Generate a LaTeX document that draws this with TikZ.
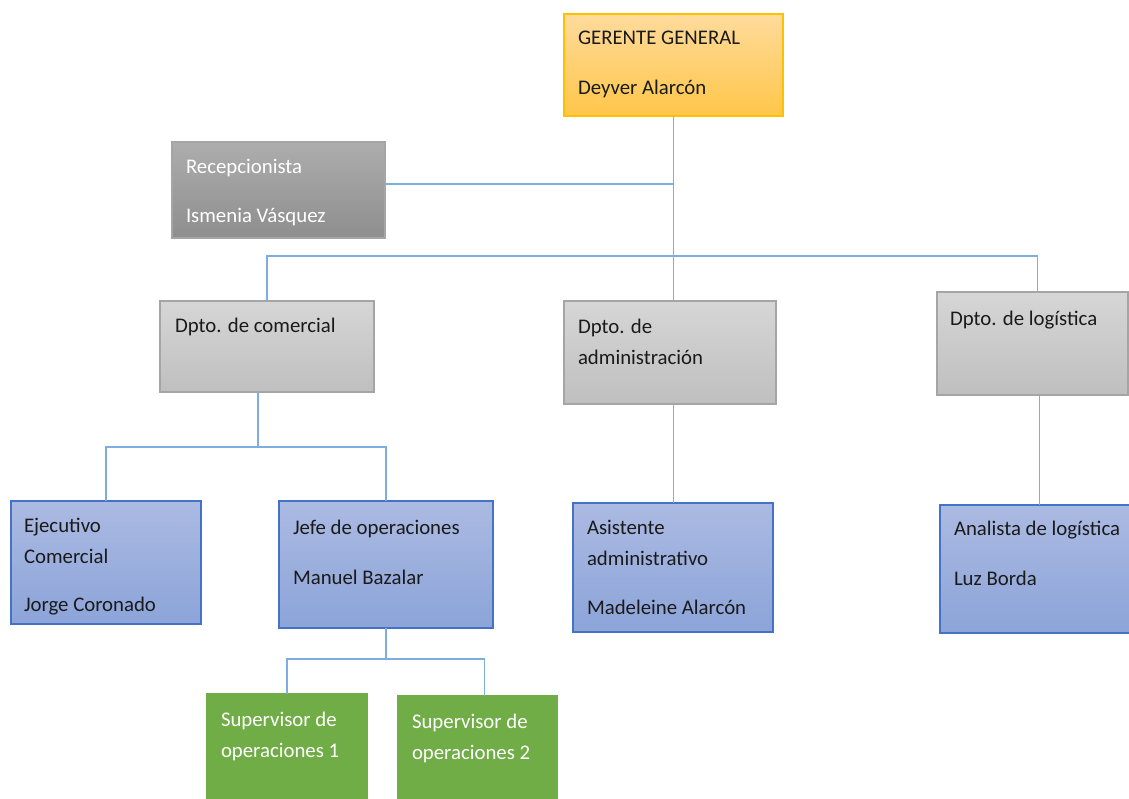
\documentclass[tikz,border=0pt]{standalone}
\usepackage{fontspec}
\setmainfont{Carlito}
\usepackage{xcolor}
\usetikzlibrary{positioning,calc}

\definecolor{ggTop}{HTML}{FFDB9C}
\definecolor{ggBot}{HTML}{FFC649}
\definecolor{ggLine}{HTML}{FFC000}
\definecolor{dkTop}{HTML}{ADADAD}
\definecolor{dkBot}{HTML}{8E8E8E}
\definecolor{ltTop}{HTML}{D6D6D6}
\definecolor{ltBot}{HTML}{BFBFBF}
\definecolor{grLine}{HTML}{A5A5A5}
\definecolor{blTop}{HTML}{ABBAE2}
\definecolor{blBot}{HTML}{8CA4D9}
\definecolor{blLine}{HTML}{4472C4}
\definecolor{supGreen}{HTML}{70AD47}
\definecolor{connBlue}{HTML}{7EAEE0}
\definecolor{inkDark}{HTML}{1A1A1A}

\begin{document}
\begin{tikzpicture}[x=1pt, y=-1pt,
  every node/.style={font=\fontsize{20.8}{31}\selectfont},
  card/.style={draw, line width=1.2pt, inner sep=0pt, outer sep=0pt, anchor=north west},
  boss/.style={card, draw=ggLine, top color=ggTop, bottom color=ggBot},
  desk/.style={card, draw=grLine, top color=dkTop, bottom color=dkBot},
  dept/.style={card, draw=grLine, top color=ltTop, bottom color=ltBot},
  staff/.style={card, draw=blLine, top color=blTop, bottom color=blBot},
  super/.style={card, draw=supGreen, fill=supGreen},
  txt/.style={inner sep=0pt, outer sep=0pt, align=left, text=inkDark},
  txtw/.style={txt, text=white},
  conn/.style={draw=connBlue, line width=1.8pt},
]
\useasboundingbox (0,0) rectangle (1129,798);

% boxes
\node[boss, minimum width=219pt, minimum height=102pt] (gg) at (564,14) {};
\node[desk, minimum width=213pt, minimum height=96pt] (recep) at (172,142) {};
\node[dept, minimum width=214pt, minimum height=91pt] (dcom) at (160,301) {};
\node[dept, minimum width=212pt, minimum height=103pt] (dadm) at (564,301) {};
\node[dept, minimum width=191pt, minimum height=103pt] (dlog) at (937,292) {};
\node[staff, minimum width=190pt, minimum height=123pt] (ejec) at (11,501) {};
\node[staff, minimum width=214pt, minimum height=127pt] (jefe) at (279,501) {};
\node[staff, minimum width=200pt, minimum height=129pt] (asis) at (573,503) {};
\node[staff, minimum width=194pt, minimum height=128pt] (anal) at (940,505) {};
\node[super, minimum width=160pt, minimum height=110pt] (sup1) at (207,694) {};
\node[super, minimum width=159pt, minimum height=110pt] (sup2) at (398,696) {};

% texts
\node[txt, below right=17pt and 14pt of gg.north west] (gg-t) {GERENTE GENERAL\\[19pt]Deyver Alarcón};
\node[txtw, below right=17pt and 14pt of recep.north west] (recep-t) {Recepcionista\\[18pt]Ismenia Vásquez};
\node[txt, below right=17pt and 15pt of dcom.north west] (dcom-t) {Dpto. de comercial};
\node[txt, below right=18pt and 14pt of dadm.north west] (dadm-t) {Dpto. de\\administración};
\node[txt, below right=19pt and 13pt of dlog.north west] (dlog-t) {Dpto. de logística};
\node[txt, below right=17pt and 13pt of ejec.north west] (ejec-t) {Ejecutivo\\Comercial\\[17pt]Jorge Coronado};
\node[txt, below right=19pt and 14pt of jefe.north west] (jefe-t) {Jefe de operaciones\\[19pt]Manuel Bazalar};
\node[txt, below right=17pt and 14pt of asis.north west] (asis-t) {Asistente\\administrativo\\[18pt]Madeleine Alarcón};
\node[txt, below right=16pt and 14pt of anal.north west] (anal-t) {Analista de logística\\[19pt]Luz Borda};
\node[txtw, below right=18pt and 14pt of sup1.north west] (sup1-t) {Supervisor de\\operaciones 1};
\node[txtw, below right=18pt and 14pt of sup2.north west] (sup2-t) {Supervisor de\\operaciones 2};

% connectors
\coordinate (busD) at (674,256);
\coordinate (busR) at (674,184);
\coordinate (busC) at (258,447);
\coordinate (busJ) at (386,659);
\draw[conn] (gg.south) -- (gg.south |- dadm.north);
\draw[conn] (recep.east |- busR) -- (busR);
\draw[conn] (dcom.north) |- (busD) -| ([xshift=5pt]dlog.north);
\draw[conn] (busC |- dcom.south) -- (busC);
\draw[conn] (ejec.north) |- (busC) -| (jefe.north);
\draw[conn] (dadm.south -| gg.south) -- (asis.north -| gg.south);
\draw[conn] ([xshift=7pt]dlog.south) -- ([xshift=7pt]dlog.south |- anal.north);
\draw[conn] (busJ |- jefe.south) -- (busJ);
\draw[conn] (sup1.north) |- (busJ) -| ([xshift=7pt]sup2.north);
\end{tikzpicture}
\end{document}
